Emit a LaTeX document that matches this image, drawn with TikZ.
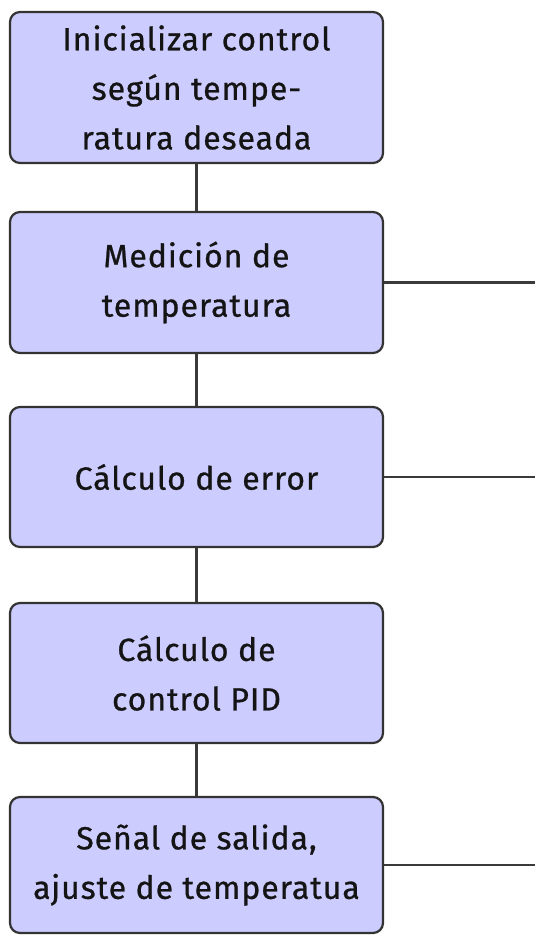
\documentclass[tikz,border=0pt]{standalone}
\usepackage{fontspec}
\setmainfont[LetterSpace=3,FakeBold=0.8]{Fira Sans}
\definecolor{boxfill}{HTML}{CCCCFF}
\definecolor{boxline}{HTML}{333333}
\definecolor{linkline}{HTML}{3A3A3A}
\begin{document}
\begin{tikzpicture}[x=1pt,y=1pt,
  stepbox/.style={draw=boxline, fill=boxfill, line width=2.2pt, rounded corners=10pt,
    minimum width=373pt, align=center, inner sep=0pt,
    font=\fontsize{32}{49.5}\selectfont, text=black!92},
  link/.style={draw=linkline, line width=2.2pt}]
\useasboundingbox (0,0) rectangle (535,-935);
\node[stepbox, minimum height=151pt] (b1) at (196.5,-87.5) {Inicializar control\\según tempe-\\ratura deseada};
\node[stepbox, minimum height=141pt] (b2) at (196.5,-282.5) {Medición de\\temperatura};
\node[stepbox, minimum height=140pt] (b3) at (196.5,-477) {Cálculo de error};
\node[stepbox, minimum height=140pt] (b4) at (196.5,-673) {Cálculo de\\control PID};
\node[stepbox, minimum height=136pt] (b5) at (196.5,-865) {Señal de salida,\\ajuste de temperatua};
\coordinate (e2) at (535,-282.5);
\coordinate (e3) at (535,-477);
\coordinate (e5) at (535,-865);
\draw[link] (b1) -- (b2);
\draw[link] (b2) -- (b3);
\draw[link] (b3) -- (b4);
\draw[link] (b4) -- (b5);
\draw[link] (b2.east) -- (e2);
\draw[link] (b3.east) -- (e3);
\draw[link] (b5.east) -- (e5);
\end{tikzpicture}
\end{document}
